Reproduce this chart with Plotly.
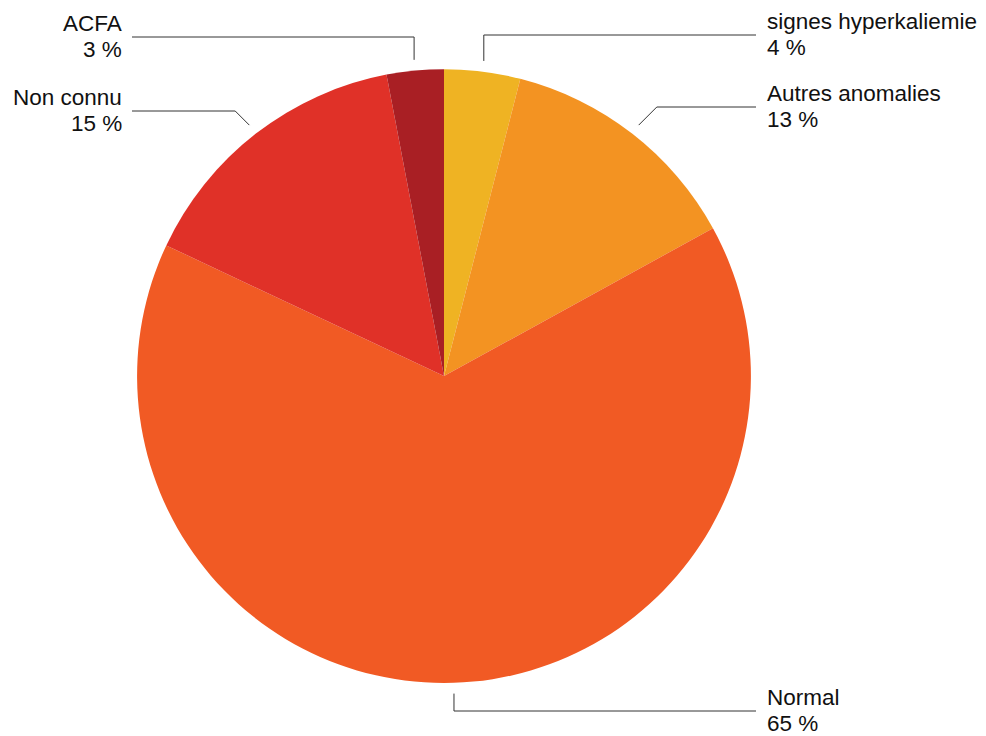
import math
import plotly.graph_objects as go

# ---- data ----
labels = ["signes hyperkaliemie", "Autres anomalies", "Normal", "Non connu", "ACFA"]
values = [4, 13, 65, 15, 3]
colors = ["#EFB323", "#F39322", "#F15A24", "#E03128", "#A91F24"]
pct_text = [f"{v} %" for v in values]

# ---- layout constants (label rows, in pixels from top) ----
W, H = 986, 736
DOM_X = [0.1389, 0.7617]
DOM_Y = [0.072, 0.906]
FONT = "Liberation Sans, Arial, Helvetica, sans-serif"
FS = 22.5
LABEL_ROW_Y = [35, 107, 711, 111, 37]
RIGHT_LINE_END, RIGHT_TEXT_X = 756, 766
LEFT_LINE_END, LEFT_TEXT_X = 132, 123

fig = go.Figure(go.Pie(
    labels=labels, values=values, sort=False, direction="clockwise", rotation=0,
    marker=dict(colors=colors, line=dict(width=0)),
    textinfo="none", hoverinfo="label+percent", showlegend=False,
    domain=dict(x=DOM_X, y=DOM_Y),
))

cx = (DOM_X[0] + DOM_X[1]) / 2 * W
cy = (1 - (DOM_Y[0] + DOM_Y[1]) / 2) * H
R = min((DOM_X[1] - DOM_X[0]) * W, (DOM_Y[1] - DOM_Y[0]) * H) / 2

def px(x):
    return x / W

def py(y):
    return 1 - y / H

total = sum(values)
cum = 0
shapes, annotations = [], []
for lab, v, t, ly in zip(labels, values, pct_text, LABEL_ROW_Y):
    mid = (cum + v / 2) / total * 2 * math.pi
    cum += v
    s, c = math.sin(mid), math.cos(mid)
    sx, sy = cx + 1.035 * R * s, cy - 1.035 * R * c
    if abs(s) < 0.2:
        ex = sx
    else:
        ex = sx + math.copysign(abs(ly - sy), s)
    right = s > 0
    endx = RIGHT_LINE_END if right else LEFT_LINE_END
    path = f"M {px(sx)},{py(sy)} L {px(ex)},{py(ly)} L {px(endx)},{py(ly)}"
    shapes.append(dict(type="path", xref="paper", yref="paper", path=path,
                       line=dict(color="#333333", width=1)))
    tx = RIGHT_TEXT_X if right else LEFT_TEXT_X
    anchor = "left" if right else "right"
    annotations.append(dict(x=px(tx), y=py(ly), xref="paper", yref="paper",
                            text=lab, showarrow=False, xanchor=anchor, yanchor="bottom",
                            align=anchor, yshift=0, borderpad=0,
                            font=dict(family=FONT, size=FS, color="#111111")))
    annotations.append(dict(x=px(tx), y=py(ly), xref="paper", yref="paper",
                            text=t, showarrow=False, xanchor=anchor, yanchor="top",
                            align=anchor, yshift=1, borderpad=0,
                            font=dict(family=FONT, size=FS, color="#111111")))

fig.update_layout(
    width=W, height=H, margin=dict(l=0, r=0, t=0, b=0),
    paper_bgcolor="white", plot_bgcolor="white",
    shapes=shapes, annotations=annotations,
)
fig.write_html("out.html")
